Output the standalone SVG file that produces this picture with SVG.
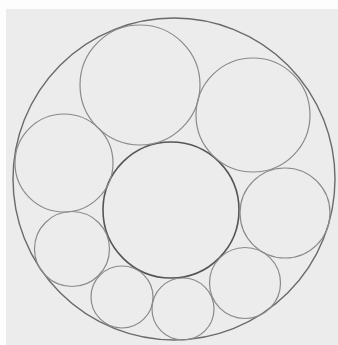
<svg xmlns="http://www.w3.org/2000/svg" width="338" height="345" viewBox="0 0 338 345">
<style>
.c{fill:none;stroke:#8a8a8a;stroke-width:1.2}
.o{fill:none;stroke:#6a6a6a;stroke-width:1.4}
.m{fill:none;stroke:#555;stroke-width:1.6}
</style>
<rect width="338" height="345" fill="#fdfdfd"/>
<rect x="6" y="9" width="332" height="336" fill="#ececec"/>
<g id="outer"><circle class="o" cx="174" cy="179" r="161"/></g>
<g id="center"><circle class="m" cx="171" cy="210" r="68"/></g>
<g id="top"><circle class="c" cx="140" cy="85" r="60"/></g>
<g id="topright"><circle class="c" cx="253" cy="115" r="57"/></g>
<g id="left"><circle class="c" cx="64" cy="163" r="49"/></g>
<g id="right"><circle class="c" cx="285" cy="213" r="45"/></g>
<g id="lowerleft"><circle class="c" cx="72" cy="249" r="37.5"/></g>
<g id="bottomright"><circle class="c" cx="245" cy="283" r="35.5"/></g>
<g id="bottomleft"><circle class="c" cx="122" cy="297" r="31"/></g>
<g id="bottom"><circle class="c" cx="183" cy="309" r="31"/></g>
</svg>
